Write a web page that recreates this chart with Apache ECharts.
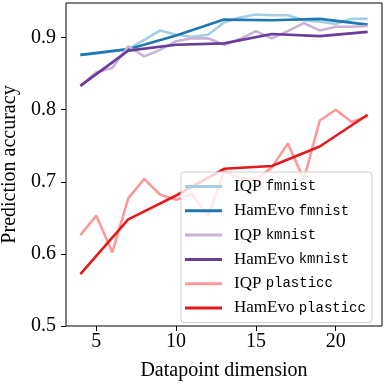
<!DOCTYPE html>
<html><head><meta charset="utf-8">
<script src="https://cdn.jsdelivr.net/npm/echarts@6/dist/echarts.min.js"></script>
<style>html,body{margin:0;padding:0;background:#fff}#c{width:384px;height:384px}</style>
</head><body><div id="c"></div>
<script>
const dimsIQP = [4,5,6,7,8,9,10,11,12,13,14,15,16,17,18,19,20,21,22];
const dimsHam = [4,7,10,13,16,19,22];
const iqpFmnist = [0.876,0.878,0.881,0.884,0.897,0.910,0.904,0.901,0.904,0.921,0.928,0.932,0.931,0.931,0.924,0.922,0.919,0.926,0.926];
const hamFmnist = [0.876,0.884,0.903,0.925,0.924,0.926,0.918];
const iqpKmnist = [0.833,0.852,0.858,0.888,0.874,0.883,0.895,0.899,0.899,0.890,0.898,0.909,0.899,0.909,0.920,0.910,0.915,0.915,0.916];
const hamKmnist = [0.833,0.882,0.890,0.892,0.905,0.902,0.908];
const iqpPlasticc = [0.626,0.653,0.602,0.677,0.704,0.682,0.675,0.683,0.652,0.715,0.705,0.703,0.720,0.753,0.703,0.785,0.800,0.783,0.791];
const hamPlasticc = [0.572,0.648,0.681,0.718,0.722,0.749,0.793];
const xTicks = [5,10,15,20];
const yTicks = [0.5,0.6,0.7,0.8,0.9];

const seriesDefs = [
  ['IQP fmnist', dimsIQP, iqpFmnist, '#a6cee3'],
  ['HamEvo fmnist', dimsHam, hamFmnist, '#1f78b4'],
  ['IQP kmnist', dimsIQP, iqpKmnist, '#cab2d6'],
  ['HamEvo kmnist', dimsHam, hamKmnist, '#6a3d9a'],
  ['IQP plasticc', dimsIQP, iqpPlasticc, '#fb9a99'],
  ['HamEvo plasticc', dimsHam, hamPlasticc, '#e31a1c']
];

const serif = 'Liberation Serif';
const chart = echarts.init(document.getElementById('c'), null, {renderer:'canvas'});
chart.setOption({
  animation: false,
  grid: {left:66, right:2, top:3, bottom:58, containLabel:false, outerBoundsMode:'none',
    show:true, borderColor:'#000', borderWidth:1, backgroundColor:'transparent'},
  xAxis: {
    type:'value', min:3.1, max:22.9,
    name:'Datapoint dimension', nameLocation:'middle', nameGap:35,
    nameTextStyle:{fontFamily:serif, fontSize:20, color:'#000'},
    axisLine:{show:false}, splitLine:{show:false},
    axisTick:{show:true, customValues:xTicks, length:5, inside:false, lineStyle:{color:'#000', width:1}},
    axisLabel:{customValues:xTicks, margin:6, fontFamily:serif, fontSize:20, color:'#000'}
  },
  yAxis: {
    type:'value', min:0.5, max:0.948,
    name:'Prediction accuracy', nameLocation:'middle', nameGap:43,
    nameTextStyle:{fontFamily:serif, fontSize:20, color:'#000'},
    axisLine:{show:false}, splitLine:{show:false},
    axisTick:{show:true, customValues:yTicks, length:5, lineStyle:{color:'#000', width:1}},
    axisLabel:{customValues:yTicks, margin:10, fontFamily:serif, fontSize:20, color:'#000',
      formatter: v => v.toFixed(1)}
  },
  legend: {
    orient:'vertical', left:181, top:172,
    padding:[6,6,6,4], itemGap:7.3, itemWidth:37, itemHeight:3,
    icon:'rect',
    backgroundColor:'rgba(255,255,255,0.8)', borderColor:'#d0d0d0', borderWidth:1, borderRadius:3,
    itemStyle:{borderWidth:0},
    data: seriesDefs.map(s => s[0]),
    formatter: name => { const p = name.split(' '); return '{s|' + p[0] + ' }{m|' + p[1] + '}'; },
    textStyle:{ padding:[0,0,0,7], rich:{
      s:{fontFamily:serif, fontSize:17, color:'#000', lineHeight:16},
      m:{fontFamily:'Liberation Mono', fontSize:14, color:'#000', lineHeight:16}
    }}
  },
  series: seriesDefs.map(([name, xs, ys, color]) => ({
    name, type:'line', color, showSymbol:false, symbol:'none',
    lineStyle:{width:2.6, color}, 
    data: xs.map((x,i) => [x, ys[i]])
  }))
});
</script></body></html>
